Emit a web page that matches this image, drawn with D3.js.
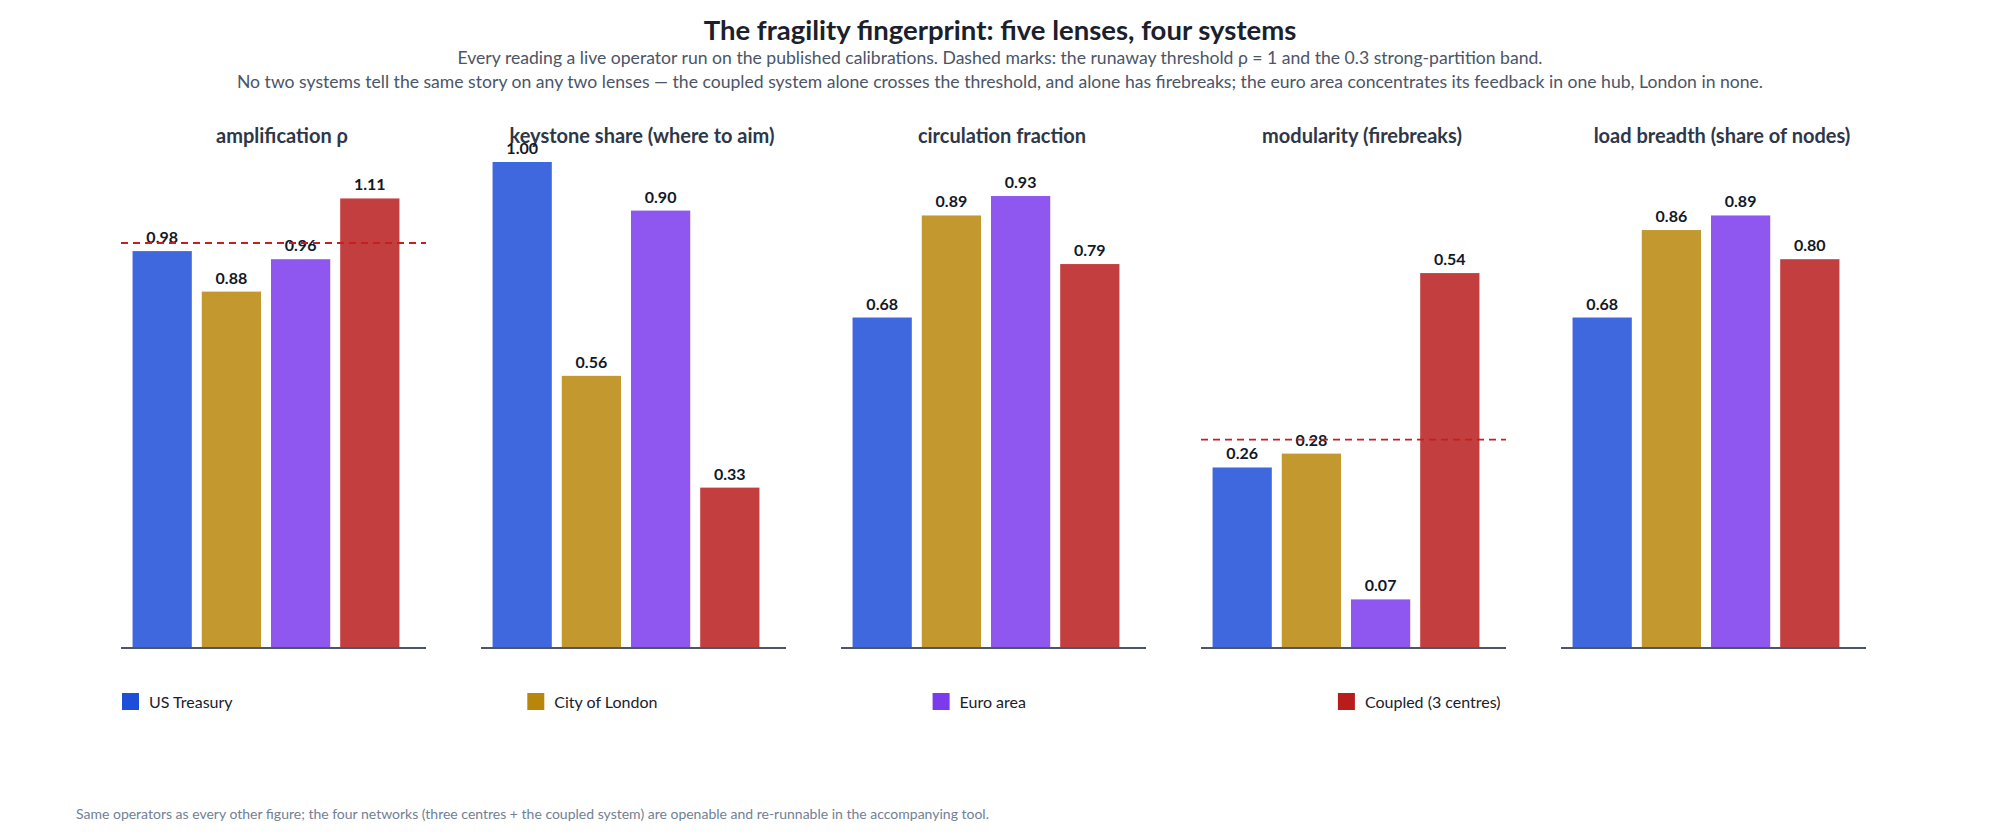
<!DOCTYPE html>
<html>
<head>
<meta charset="utf-8">
<script src="https://cdn.jsdelivr.net/npm/d3@7"></script>
<style>
  html, body { margin: 0; padding: 0; background: #fff; }
  svg text { font-family: Lato, "Noto Sans", sans-serif; }
</style>
</head>
<body>
<svg id="chart" width="2000" height="838"></svg>
<script>
// chart data
const systems = ['US Treasury', 'City of London', 'Euro area', 'Coupled (3 centres)'];
const systemColors = ['#1d4ed8', '#b8860b', '#7c3aed', '#b91c1c'];
const lenses = ['amplification ρ', 'keystone share (where to aim)', 'circulation fraction',
  'modularity (firebreaks)', 'load breadth (share of nodes)'];
const amplification = [0.98, 0.88, 0.96, 1.11];
const keystoneShare = [1.00, 0.56, 0.90, 0.33];
const circulation = [0.68, 0.89, 0.93, 0.79];
const modularity = [0.26, 0.28, 0.07, 0.54];
const loadBreadth = [0.68, 0.86, 0.89, 0.80];
const lensMax = [1.2, 1.0, 1.0, 0.7, 1.0];
// dashed reference marks: runaway threshold and strong-partition band
const thresholds = [1, null, null, 0.3, null];

const lensValues = [amplification, keystoneShare, circulation, modularity, loadBreadth];

const svg = d3.select('#chart');

const PANEL = {
  left: 121,
  step: 360,
  axisWidth: 305,
  bandWidth: 290,
  top: 162,
  bottom: 648
};

svg.append('text')
  .attr('x', 1000).attr('y', 40)
  .attr('text-anchor', 'middle')
  .attr('font-size', 27.5).attr('font-weight', 700)
  .attr('fill', '#1a202c')
  .text('The fragility fingerprint: five lenses, four systems');

const subtitle = [
  'Every reading a live operator run on the published calibrations. Dashed marks: the runaway threshold ρ = 1 and the 0.3 strong-partition band.',
  'No two systems tell the same story on any two lenses — the coupled system alone crosses the threshold, and alone has firebreaks; the euro area concentrates its feedback in one hub, London in none.'
];
svg.selectAll('text.sub').data(subtitle).enter().append('text')
  .attr('class', 'sub')
  .attr('x', 1000).attr('y', (d, i) => 64 + i * 24)
  .attr('text-anchor', 'middle')
  .attr('font-size', 17.6)
  .attr('fill', '#4a5568')
  .text(d => d);

const color = d3.scaleOrdinal().domain(systems).range(systemColors);

lenses.forEach((lens, li) => {
  const x0 = PANEL.left + li * PANEL.step;
  const g = svg.append('g').attr('transform', 'translate(' + x0 + ',0)');
  const data = lensValues[li].map((v, si) => ({ system: systems[si], value: v }));

  const x = d3.scaleBand()
    .domain(systems)
    .range([0, PANEL.bandWidth])
    .paddingInner(0.144)
    .paddingOuter(0.167);

  const y = d3.scaleLinear()
    .domain([0, lensMax[li]])
    .range([PANEL.bottom, PANEL.top]);

  g.append('text')
    .attr('x', 161).attr('y', 143)
    .attr('text-anchor', 'middle')
    .attr('font-size', 20).attr('font-weight', 700)
    .attr('fill', '#2d3748')
    .text(lens);

  g.selectAll('rect.bar').data(data).enter().append('rect')
    .attr('class', 'bar')
    .attr('x', d => x(d.system))
    .attr('y', d => y(d.value))
    .attr('width', x.bandwidth())
    .attr('height', d => y(0) - y(d.value))
    .attr('fill', d => color(d.system))
    .attr('fill-opacity', 0.85);

  g.selectAll('text.val').data(data).enter().append('text')
    .attr('class', 'val')
    .attr('x', d => x(d.system) + x.bandwidth() / 2)
    .attr('y', d => y(d.value) - 8)
    .attr('text-anchor', 'middle')
    .attr('font-size', 16).attr('font-weight', 700)
    .attr('fill', '#111827')
    .text(d => d3.format('.2f')(d.value));

  g.append('line')
    .attr('x1', 0).attr('x2', PANEL.axisWidth)
    .attr('y1', y(0)).attr('y2', y(0))
    .attr('stroke', '#4a5568').attr('stroke-width', 2);

  if (thresholds[li] != null) {
    g.append('line')
      .attr('x1', 0).attr('x2', PANEL.axisWidth)
      .attr('y1', y(thresholds[li])).attr('y2', y(thresholds[li]))
      .attr('stroke', '#c81e1e').attr('stroke-width', 1.8)
      .attr('stroke-dasharray', '7,5');
  }
});

// legend
const legend = svg.append('g').attr('transform', 'translate(122,693)');
const item = legend.selectAll('g').data(systems).enter().append('g')
  .attr('transform', (d, i) => 'translate(' + (i * 405.3) + ',0)');
item.append('rect')
  .attr('width', 17).attr('height', 17)
  .attr('fill', d => color(d));
item.append('text')
  .attr('x', 27).attr('y', 14.5)
  .attr('font-size', 16)
  .attr('fill', '#1a202c')
  .text(d => d);

svg.append('text')
  .attr('x', 76).attr('y', 819)
  .attr('font-size', 14)
  .attr('fill', '#718096')
  .text('Same operators as every other figure; the four networks (three centres + the coupled system) are openable and re-runnable in the accompanying tool.');
</script>
</body>
</html>
